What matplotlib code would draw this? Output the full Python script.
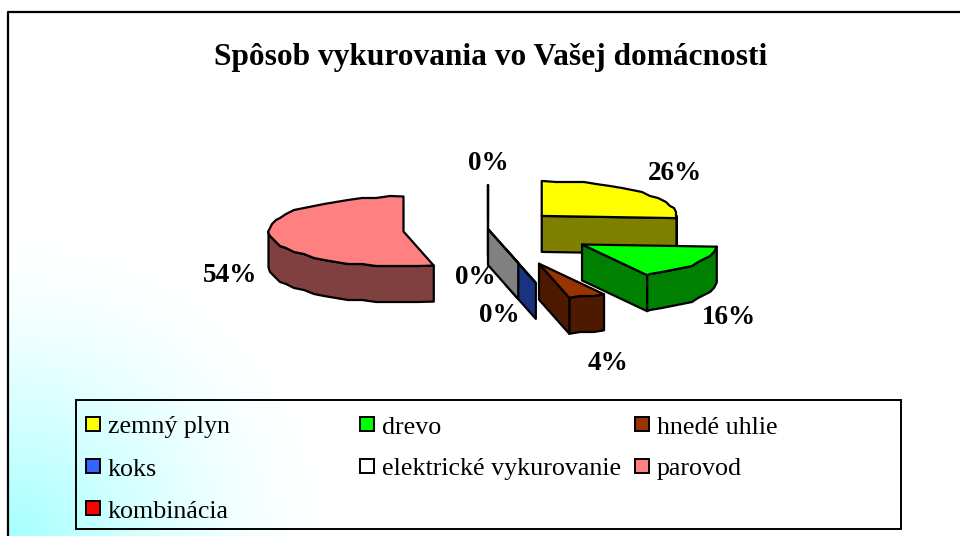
import numpy as np
import matplotlib
matplotlib.use("Agg")
import matplotlib.pyplot as plt
from matplotlib.patches import Polygon, Rectangle

# ── Data ───────────────────────────────────────────────────────────────────
categories = ["zemný plyn", "drevo", "hnedé uhlie", "koks",
              "elektrické vykurovanie", "parovod", "kombinácia"]
shares = [26.0, 16.0, 4.4, 0.0, 0.0, 53.6, 0.0]

# ── Styles ─────────────────────────────────────────────────────────────────
top_colors = ["#FFFF00", "#00FF00", "#993300", "#3366FF", "#FFFFFF", "#FF8080", "#FF0000"]
side_colors = ["#808000", "#008000", "#4D1A00", "#1A3380", "#808080", "#804040", "#800000"]
explode = [0.546, 0.825, 1.06, 0.58, 0.0, 0.63, 0.26]
draw_order = [6, 3, 4, 5, 0, 1, 2]
label_pos = [(675, 173), (729, 318), (608, 363), (499, 315), (475, 278), (230, 276), (488, 164)]

CX, CY = 488, 229     # pie centre, pixels
RX, RY = 135, 35      # ellipse radii
DEPTH = 36            # pie thickness
LW = 1.6
SERIF = "Liberation Serif"

fig = plt.figure(figsize=(9.6, 5.36), dpi=100)
ax = fig.add_axes([0, 0, 1, 1])
ax.set_xlim(0, 960)
ax.set_ylim(536, 0)
ax.axis("off")

# background: cyan glow out of the lower left corner
xx, yy = np.meshgrid(np.arange(8, 960), np.arange(12, 536))
fade = np.clip(1 - np.hypot((xx - 8) / 320, (yy - 536) / 300), 0, 1)
glow = np.ones(xx.shape + (3,))
glow[..., 0] = 1 - 0.36 * fade ** 1.5
ax.imshow(glow, extent=(8, 960, 536, 12), aspect="auto", zorder=0)
ax.plot([8, 8, 960], [536, 12, 12], color="black", lw=1.6, zorder=1)

ax.text(491, 57, "Spôsob vykurovania vo Vašej domácnosti", ha="center", va="center",
        fontsize=22.6, fontweight="bold", family=SERIF, zorder=5)


def rim(cx, cy, a1, a2):
    """Points on the top ellipse between two clockwise angles (from 12 o'clock)."""
    inner = np.arange(6, 360, 6)
    inner = inner[(inner > a1 + 1) & (inner < a2 - 1)]
    t = np.radians(np.concatenate(([a1], inner, [a2])))
    pts = np.column_stack((cx + RX * np.sin(t), cy - RY * np.cos(t)))
    # the source is a coarse raster, its curves run in small steps
    pts[1:-1] = np.round(pts[1:-1] / 2) * 2
    return pts


def face(pts, color, z):
    ax.add_patch(Polygon(pts, closed=True, facecolor=color, edgecolor="black",
                         linewidth=LW, joinstyle="round", zorder=z))


# ── Slices ─────────────────────────────────────────────────────────────────
total = sum(shares)
ends = np.cumsum(shares) / total * 360
starts = ends - np.array(shares) / total * 360

for z, i in enumerate(draw_order):
    z = 2 + z * 0.1
    a1, a2 = starts[i], ends[i]
    mid = np.radians((a1 + a2) / 2)
    cx = CX + explode[i] * RX * np.sin(mid)
    cy = CY - explode[i] * RY * np.cos(mid)
    down = np.array([0, DEPTH])
    apex = np.array([cx, cy])
    side = side_colors[i]

    # outer wall, only the part turned to the viewer
    lo, hi = max(a1, 90), min(a2, 270)
    if hi > lo:
        edge = rim(cx, cy, lo, hi)
        face(np.vstack((edge, edge[::-1] + down)), side, z)
    # cut faces
    if 0 < a2 < 180:
        p = rim(cx, cy, a2, a2)[0]
        face([apex, p, p + down, apex + down], side, z)
    if 180 < a1 <= 360:
        p = rim(cx, cy, a1, a1)[0]
        face([apex, p, p + down, apex + down], side, z)
    # top
    face(np.vstack(([apex], rim(cx, cy, a1, a2))), top_colors[i], z + 0.01)

# ── Percent labels ─────────────────────────────────────────────────────────
for share, (lx, ly) in zip(shares, label_pos):
    ax.text(lx, ly, f"{share / total * 100:.0f}%", ha="center", va="center",
            fontsize=19.5, fontweight="bold", family=SERIF, zorder=5)

# ── Legend ─────────────────────────────────────────────────────────────────
ax.add_patch(Rectangle((76, 400), 825, 129, facecolor="none", edgecolor="black",
                       linewidth=1.4, zorder=3))
col_x = [86, 360, 635]
row_y = [424, 466, 508]
for i, name in enumerate(categories):
    x, y = col_x[i % 3], row_y[i // 3]
    ax.add_patch(Rectangle((x, y - 7), 14, 14, facecolor=top_colors[i], edgecolor="black",
                           linewidth=1.4, zorder=4))
    ax.text(x + 22, y + 1, name, ha="left", va="center_baseline", fontsize=18.7, family=SERIF, zorder=5)

fig.savefig("out.png", dpi=100)
